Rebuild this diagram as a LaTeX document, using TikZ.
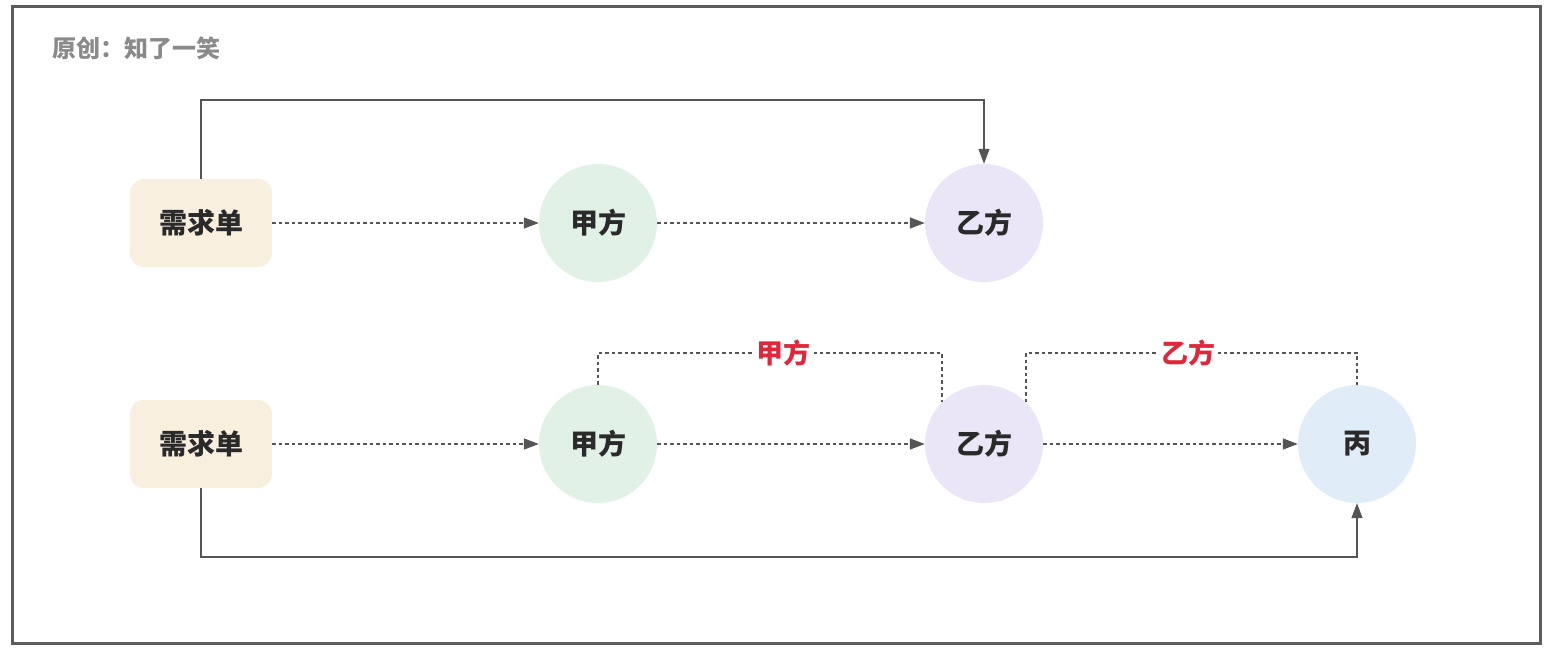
\documentclass[tikz,border=0pt]{standalone}
\usepackage{fontspec}
\newfontfamily\cjk{Noto Sans CJK SC}
\usetikzlibrary{arrows.meta}
\definecolor{framec}{HTML}{5C5C5C}
\definecolor{linec}{HTML}{555555}
\definecolor{creamc}{HTML}{F8EFDF}
\definecolor{greenc}{HTML}{E1F1E6}
\definecolor{purplec}{HTML}{EAE6F7}
\definecolor{bluec}{HTML}{E0EDF8}
\definecolor{redc}{HTML}{E0283C}
\definecolor{titlec}{HTML}{8A8A8A}
\definecolor{textc}{HTML}{2A2A2A}
\tikzset{
  boxnode/.style={rectangle, rounded corners=14pt, fill=creamc, minimum width=142pt, minimum height=88pt, inner sep=0pt, font=\cjk\bfseries\fontsize{28}{32}\selectfont, text=textc},
  circnode/.style={circle, minimum size=118pt, inner sep=0pt, font=\cjk\bfseries\fontsize{28}{32}\selectfont, text=textc},
  dotarrow/.style={draw=linec, line width=1.5pt, dash pattern=on 3.5pt off 3pt, -{Triangle[length=15pt,width=11pt]}},
  dotline/.style={draw=linec, line width=1.5pt, dash pattern=on 3.5pt off 3pt},
  solidarrow/.style={draw=linec, line width=1.5pt, -{Triangle[length=15pt,width=11pt]}},
  lbl/.style={fill=white, inner sep=3pt, text=redc, font=\cjk\bfseries\fontsize{27}{31}\selectfont},
}
\begin{document}
\begin{tikzpicture}[x=1pt,y=-1pt]
\useasboundingbox (0,0) rectangle (1556,650);
\draw[framec, line width=3pt] (12,7) rectangle (1540,643);
\node[anchor=west, inner sep=0pt, text=titlec, font=\cjk\bfseries\fontsize{24}{28}\selectfont] (title) at (52,48) {原创：知了一笑};
% top row
\node[boxnode] (x1) at (201,223) {需求单};
\node[circnode, fill=greenc] (j1) at (598,223) {甲方};
\node[circnode, fill=purplec] (y1) at (984,223) {乙方};
% bottom row
\node[boxnode] (x2) at (201,444) {需求单};
\node[circnode, fill=greenc] (j2) at (598,444) {甲方};
\node[circnode, fill=purplec] (y2) at (984,444) {乙方};
\node[circnode, fill=bluec] (b2) at (1357,444) {丙};
% top connectors
\draw[solidarrow] (x1.north) -- (x1.north |- 0,100) -- (y1.north |- 0,100) -- (y1.north);
\draw[dotarrow] (x1.east) -- (j1.west);
\draw[dotarrow] (j1.east) -- (y1.west);
% bottom connectors
\draw[dotarrow] (x2.east) -- (j2.west);
\draw[dotarrow] (j2.east) -- (y2.west);
\draw[dotarrow] (y2.east) -- (b2.west);
\draw[dotline] (j2.north) -- (j2.north |- 0,353) -- node[lbl, pos=0.54] {甲方} (y2.north west |- 0,353) -- (y2.north west);
\draw[dotline] (y2.north east) -- (y2.north east |- 0,353) -- node[lbl, pos=0.49] {乙方} (b2.north |- 0,353) -- (b2.north);
\draw[solidarrow] (x2.south) -- (x2.south |- 0,557) -- (b2.south |- 0,557) -- (b2.south);
\end{tikzpicture}
\end{document}
